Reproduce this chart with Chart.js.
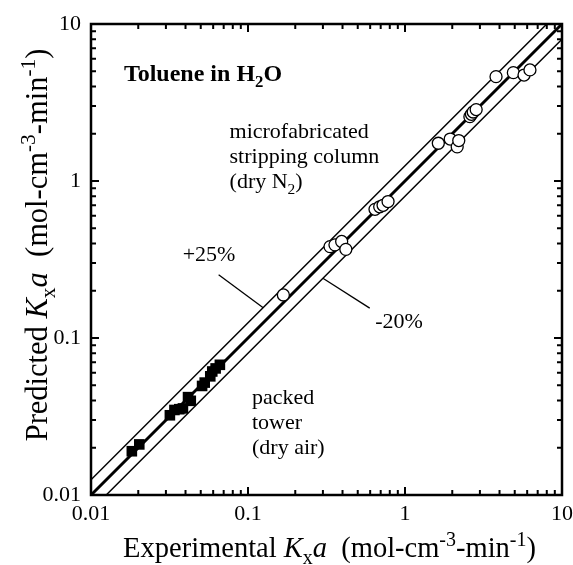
<!DOCTYPE html>
<html>
<head>
    <meta charset="utf-8">
    <script src="https://cdn.jsdelivr.net/npm/chart.js@4/dist/chart.umd.min.js"></script>
    <style>
        html, body {
            margin: 0;
            padding: 0;
            background: #fff;
        }

        #wrap {
            position: relative;
            width: 573px;
            height: 565px;
        }
    </style>
</head>
<body>
    <div id="wrap">
        <canvas id="kxaChart"></canvas>
    </div>
    <script>
        // packed tower (dry air): experimental vs predicted Kxa
        const packedExp = [0.0182, 0.0203, 0.0318, 0.0340, 0.0365, 0.0385, 0.0415, 0.0432, 0.0510, 0.0530, 0.0575, 0.0592, 0.0622, 0.0662];
        const packedPred = [0.0190, 0.0210, 0.0322, 0.0348, 0.0352, 0.0356, 0.0420, 0.0398, 0.0495, 0.0520, 0.0570, 0.0612, 0.0640, 0.0675];

        // microfabricated stripping column (dry N2)
        const microExp = [0.168, 0.333, 0.358, 0.395, 0.420, 0.644, 0.690, 0.725, 0.780, 1.63, 1.94, 2.15, 2.20, 2.59, 2.65, 2.72, 2.84, 3.80, 4.90, 5.73, 6.25];
        const microPred = [0.188, 0.382, 0.392, 0.412, 0.367, 0.660, 0.685, 0.700, 0.740, 1.74, 1.85, 1.65, 1.81, 2.57, 2.66, 2.75, 2.85, 4.62, 4.90, 4.73, 5.10];

        // parity line and the +25% / -20% bands (end points)
        const parityX = [0.01, 10];
        const parityY = [0.01, 10];
        const plusX = [0.01, 8];
        const plusY = [0.0125, 10];
        const minusX = [0.0125, 10];
        const minusY = [0.01, 8];

        // leader lines for the band labels
        const plusLeaderX = [0.125, 0.065];
        const plusLeaderY = [0.156, 0.253];
        const minusLeaderX = [0.300, 0.596];
        const minusLeaderY = [0.240, 0.155];

        const tickValues = [0.01, 0.02, 0.03, 0.04, 0.05, 0.06, 0.07, 0.08, 0.09,
            0.1, 0.2, 0.3, 0.4, 0.5, 0.6, 0.7, 0.8, 0.9,
            1, 2, 3, 4, 5, 6, 7, 8, 9, 10];
        const majorTicks = [0.01, 0.1, 1, 10];
        const majorLabels = ['0.01', '0.1', '1', '10'];

        const SERIF = '"Liberation Serif", "DejaVu Serif", serif';

        function pairs(xs, ys) {
            return xs.map((x, i) => ({ x: x, y: ys[i] }));
        }

        function tickLabel(value) {
            const i = majorTicks.findIndex(m => Math.abs(m - value) / m < 1e-6);
            return i >= 0 ? majorLabels[i] : '';
        }

        // text with italic / sub / sup pieces
        function richWidth(ctx, segs, size) {
            let w = 0;
            segs.forEach(s => {
                const fs = (s.sub || s.sup) ? size * 0.7 : size;
                ctx.font = `${s.italic ? 'italic ' : ''}${s.bold ? 'bold ' : ''}${fs}px ${SERIF}`;
                w += ctx.measureText(s.t).width;
            });
            return w;
        }

        function drawRich(ctx, segs, size, x, y, align) {
            let cx = x;
            if (align === 'center') {
                cx = x - richWidth(ctx, segs, size) / 2;
            }
            ctx.textBaseline = 'alphabetic';
            ctx.textAlign = 'left';
            ctx.fillStyle = '#000';
            segs.forEach(s => {
                const fs = (s.sub || s.sup) ? size * 0.7 : size;
                ctx.font = `${s.italic ? 'italic ' : ''}${s.bold ? 'bold ' : ''}${fs}px ${SERIF}`;
                let dy = 0;
                if (s.sub) dy = size * 0.25;
                if (s.sup) dy = -size * 0.38;
                ctx.fillText(s.t, cx, y + dy);
                cx += ctx.measureText(s.t).width;
            });
        }

        const unitSegs = [
            { t: '  (mol-cm' }, { t: '-3', sup: true }, { t: '-min' }, { t: '-1', sup: true }, { t: ')' }
        ];
        const xTitle = [{ t: 'Experimental ' }, { t: 'K', italic: true }, { t: 'x', sub: true }, { t: 'a', italic: true }, ...unitSegs];
        const yTitle = [{ t: 'Predicted ' }, { t: 'K', italic: true }, { t: 'x', sub: true }, { t: 'a', italic: true }, ...unitSegs];

        // notes placed in data coordinates, anchored at left / centre
        const notes = [
            { x: 0.0162, y: 4.87, align: 'left', size: 24, segs: [{ t: 'Toluene in H', bold: true }, { t: '2', bold: true, sub: true }, { t: 'O', bold: true }] },
            { x: 0.0763, y: 2.08, align: 'left', segs: [{ t: 'microfabricated' }] },
            { x: 0.0763, y: 1.44, align: 'left', segs: [{ t: 'stripping column' }] },
            { x: 0.0763, y: 1.00, align: 'left', segs: [{ t: '(dry N' }, { t: '2', sub: true }, { t: ')' }] },
            { x: 0.0565, y: 0.343, align: 'center', segs: [{ t: '+25%' }] },
            { x: 0.916, y: 0.128, align: 'center', segs: [{ t: '-20%' }] },
            { x: 0.106, y: 0.042, align: 'left', segs: [{ t: 'packed' }] },
            { x: 0.106, y: 0.0292, align: 'left', segs: [{ t: 'tower' }] },
            { x: 0.106, y: 0.0202, align: 'left', segs: [{ t: '(dry air)' }] }
        ];

        const decorations = {
            id: 'decorations',
            afterDatasetsDraw(chart) {
                const ctx = chart.ctx;
                const area = chart.chartArea;
                const xs = chart.scales.x;
                const ys = chart.scales.y;
                ctx.save();
                ctx.strokeStyle = '#000';
                ctx.lineWidth = 2;
                ctx.beginPath();
                tickValues.forEach(v => {
                    const len = majorTicks.includes(v) ? 8 : 5;
                    const px = xs.getPixelForValue(v);
                    const py = ys.getPixelForValue(v);
                    ctx.moveTo(px, area.bottom);
                    ctx.lineTo(px, area.bottom - len);
                    ctx.moveTo(px, area.top);
                    ctx.lineTo(px, area.top + len);
                    ctx.moveTo(area.left, py);
                    ctx.lineTo(area.left + len, py);
                    ctx.moveTo(area.right, py);
                    ctx.lineTo(area.right - len, py);
                });
                ctx.stroke();
                ctx.lineWidth = 2.5;
                ctx.strokeRect(area.left, area.top, area.right - area.left, area.bottom - area.top);

                notes.forEach(n => {
                    const size = n.size || 22;
                    const px = xs.getPixelForValue(n.x);
                    const py = ys.getPixelForValue(n.y) + size * 0.32;
                    drawRich(ctx, n.segs, size, px, py, n.align);
                });

                drawRich(ctx, xTitle, 28.5, (area.left + area.right) / 2 + 3, 557, 'center');
                ctx.translate(47, 245);
                ctx.rotate(-Math.PI / 2);
                drawRich(ctx, yTitle, 30.5, 0, 0, 'center');
                ctx.restore();
            }
        };

        function logAxis(extra) {
            return Object.assign({
                type: 'logarithmic',
                min: 0.01,
                max: 10,
                grid: { display: false, drawTicks: false },
                border: { display: false },
                afterBuildTicks: scale => {
                    scale.ticks = tickValues.map(v => ({ value: v, major: majorTicks.includes(v) }));
                }
            }, extra);
        }

        const lineStyle = {
            showLine: true,
            pointRadius: 0,
            borderColor: '#000',
            backgroundColor: '#000',
            fill: false
        };

        new Chart(document.getElementById('kxaChart'), {
            type: 'scatter',
            data: {
                datasets: [
                    {
                        label: 'microfabricated stripping column',
                        data: pairs(microExp, microPred),
                        pointStyle: 'circle',
                        pointRadius: 6,
                        pointBorderWidth: 1.3,
                        pointBackgroundColor: '#fff',
                        pointBorderColor: '#000'
                    },
                    {
                        label: 'packed tower',
                        data: pairs(packedExp, packedPred),
                        pointStyle: 'rect',
                        pointRadius: 7.5,
                        pointBorderWidth: 0,
                        pointBackgroundColor: '#000',
                        pointBorderColor: '#000'
                    },
                    Object.assign({ label: 'parity', data: pairs(parityX, parityY), borderWidth: 3 }, lineStyle),
                    Object.assign({ label: '+25%', data: pairs(plusX, plusY), borderWidth: 1.5 }, lineStyle),
                    Object.assign({ label: '-20%', data: pairs(minusX, minusY), borderWidth: 1.5 }, lineStyle),
                    Object.assign({ label: '+25% leader', data: pairs(plusLeaderX, plusLeaderY), borderWidth: 1.3 }, lineStyle),
                    Object.assign({ label: '-20% leader', data: pairs(minusLeaderX, minusLeaderY), borderWidth: 1.3 }, lineStyle)
                ]
            },
            options: {
                responsive: true,
                maintainAspectRatio: false,
                animation: false,
                layout: {
                    padding: { left: 0, right: 11, top: 24, bottom: 0 }
                },
                plugins: {
                    legend: { display: false },
                    tooltip: { enabled: false },
                    title: { display: false }
                },
                scales: {
                    x: logAxis({
                        position: 'bottom',
                        afterFit: scale => {
                            scale.height = 70;
                            scale.paddingLeft = 0;
                            scale.paddingRight = 0;
                        },
                        ticks: {
                            autoSkip: false,
                            maxRotation: 0,
                            padding: 6,
                            color: '#000',
                            font: { family: SERIF, size: 22 },
                            callback: value => tickLabel(value)
                        }
                    }),
                    y: logAxis({
                        position: 'left',
                        afterFit: scale => {
                            scale.width = 91;
                            scale.paddingTop = 0;
                            scale.paddingBottom = 0;
                        },
                        ticks: {
                            autoSkip: false,
                            padding: 10,
                            color: '#000',
                            font: { family: SERIF, size: 22 },
                            callback: value => tickLabel(value)
                        }
                    })
                }
            },
            plugins: [decorations]
        });
    </script>
</body>
</html>
